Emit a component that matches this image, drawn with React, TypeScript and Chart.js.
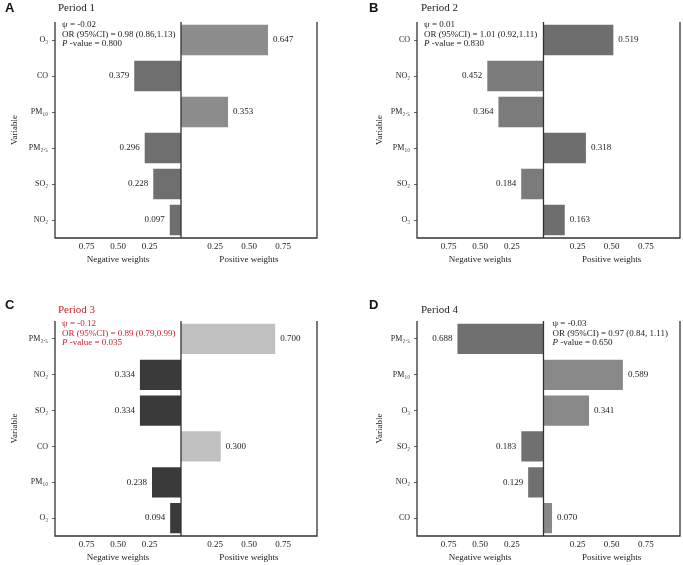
import React, { useEffect, useRef } from "react";
import { Chart, registerables } from "chart.js";
Chart.register(...registerables);

// ---- data ----
const tickValues = [0.25, 0.5, 0.75];

const labelsA = ["O₃", "CO", "PM₁₀", "PM₂.₅", "SO₂", "NO₂"];
const negA = [null, 0.379, null, 0.296, 0.228, 0.097];
const posA = [0.647, null, 0.353, null, null, null];
const statsA = ["ψ = -0.02", "OR (95%CI) = 0.98 (0.86,1.13)", "-value = 0.800"];

const labelsB = ["CO", "NO₂", "PM₂.₅", "PM₁₀", "SO₂", "O₃"];
const negB = [null, 0.452, 0.364, null, 0.184, null];
const posB = [0.519, null, null, 0.318, null, 0.163];
const statsB = ["ψ = 0.01", "OR (95%CI) = 1.01 (0.92,1.11)", "-value = 0.830"];

const labelsC = ["PM₂.₅", "NO₂", "SO₂", "CO", "PM₁₀", "O₃"];
const negC = [null, 0.334, 0.334, null, 0.238, 0.094];
const posC = [0.7, null, null, 0.3, null, null];
const statsC = ["ψ = -0.12", "OR (95%CI) = 0.89 (0.79,0.99)", "-value = 0.035"];

const labelsD = ["PM₂.₅", "PM₁₀", "O₃", "SO₂", "NO₂", "CO"];
const negD = [0.688, null, null, 0.183, 0.129, null];
const posD = [null, 0.589, 0.341, null, null, 0.07];
const statsD = ["ψ = -0.03", "OR (95%CI) = 0.97 (0.84, 1.11)", "-value = 0.650"];

const periodTitles = ["Period 1", "Period 2", "Period 3", "Period 4"];
const panelLetters = ["A", "B", "C", "D"];

const SERIF = "'Liberation Serif', 'Times New Roman', serif";
const RED = "#c8232c";

type PanelCfg = {
  labels: string[];
  neg: (number | null)[];
  pos: (number | null)[];
  stats: string[];
  negColor: string;
  posColor: string;
  textColor: string;
  statsAtRight: boolean;
  left: number;
  top: number;
  width: number;
  height: number;
  padRight: number;
  padBottom: number;
  yTitlePad: number;
};

const panels: PanelCfg[] = [
  { labels: labelsA, neg: negA, pos: posA, stats: statsA, negColor: "#6f6f6f", posColor: "#8c8c8c", textColor: "#222", statsAtRight: false, left: 0, top: 0, width: 340, height: 280, padRight: 23, padBottom: 15, yTitlePad: 9.5 },
  { labels: labelsB, neg: negB, pos: posB, stats: statsB, negColor: "#7b7b7b", posColor: "#6e6e6e", textColor: "#222", statsAtRight: false, left: 362, top: 0, width: 321, height: 280, padRight: 3, padBottom: 15, yTitlePad: 12.5 },
  { labels: labelsC, neg: negC, pos: posC, stats: statsC, negColor: "#3a3a3a", posColor: "#c0c0c0", textColor: RED, statsAtRight: false, left: 0, top: 299, width: 340, height: 266, padRight: 23, padBottom: 2, yTitlePad: 9.5 },
  { labels: labelsD, neg: negD, pos: posD, stats: statsD, negColor: "#707070", posColor: "#898989", textColor: "#222", statsAtRight: true, left: 362, top: 299, width: 321, height: 266, padRight: 3, padBottom: 2, yTitlePad: 12.5 },
];

function Panel({ cfg }: { cfg: PanelCfg }) {
  const ref = useRef<HTMLCanvasElement | null>(null);
  useEffect(() => {
    if (!ref.current) return;
    const font9 = { family: SERIF, size: 9 };
    const decor = {
      id: "decor",
      afterDatasetsDraw(chart: any) {
        const ctx = chart.ctx;
        const a = chart.chartArea;
        const center = chart.scales.xPos.left;
        ctx.save();
        // value labels
        ctx.font = `9px ${SERIF}`;
        ctx.fillStyle = "#222";
        ctx.textBaseline = "middle";
        chart.data.datasets.forEach((ds: any, di: number) => {
          const meta = chart.getDatasetMeta(di);
          meta.data.forEach((el: any, i: number) => {
            const v = ds.data[i];
            if (v === null || v === undefined) return;
            const txt = Number(v).toFixed(3);
            if (di === 0) {
              ctx.textAlign = "right";
              ctx.fillText(txt, el.x - 4, el.y);
            } else {
              ctx.textAlign = "left";
              ctx.fillText(txt, el.x + 4, el.y);
            }
          });
        });
        // frame lines
        ctx.strokeStyle = "#333";
        ctx.lineWidth = 1.3;
        ctx.beginPath();
        ctx.moveTo(a.left, a.top);
        ctx.lineTo(a.left, a.bottom);
        ctx.lineTo(a.right, a.bottom);
        ctx.lineTo(a.right, a.top);
        ctx.moveTo(center, a.top);
        ctx.lineTo(center, a.bottom);
        ctx.stroke();
        // stats text
        const sx = cfg.statsAtRight ? center + 9 : a.left + 7;
        const offs = [2.5, 12.5, 22];
        ctx.fillStyle = cfg.textColor;
        ctx.textAlign = "left";
        ctx.textBaseline = "middle";
        ctx.font = `9px ${SERIF}`;
        ctx.fillText(cfg.stats[0], sx, a.top + offs[0]);
        ctx.fillText(cfg.stats[1], sx, a.top + offs[1]);
        ctx.font = `italic 9px ${SERIF}`;
        ctx.fillText("P", sx, a.top + offs[2]);
        const pw = ctx.measureText("P ").width;
        ctx.font = `9px ${SERIF}`;
        ctx.fillText(cfg.stats[2], sx + pw, a.top + offs[2]);
        ctx.restore();
      },
    };
    const xCommon = (title: string, weight: number, reverse: boolean) => ({
      type: "linear",
      position: "bottom",
      stack: "xs",
      stackWeight: weight,
      reverse,
      min: 0,
      max: 1,
      grid: { display: false, drawTicks: false, tickLength: 0 },
      border: { display: false },
      afterBuildTicks: (s: any) => {
        s.ticks = tickValues.map((v) => ({ value: v }));
      },
      ticks: {
        font: font9,
        color: "#222",
        padding: 3,
        autoSkip: false,
        maxRotation: 0,
        callback: (v: any) => Number(v).toFixed(2),
      },
      title: { display: true, text: title, font: font9, color: "#222", padding: { top: 0, bottom: 0 } },
      afterFit: (s: any) => {
        s.height = 27;
      },
    });
    const chart = new Chart(ref.current, {
      type: "bar",
      data: {
        labels: cfg.labels,
        datasets: [
          {
            data: cfg.neg as any,
            xAxisID: "xNeg",
            yAxisID: "y",
            backgroundColor: cfg.negColor,
            borderColor: "rgba(255,255,255,0.7)",
            borderWidth: 1,
            grouped: false,
            barPercentage: 0.9,
            categoryPercentage: 1,
          },
          {
            data: cfg.pos as any,
            xAxisID: "xPos",
            yAxisID: "y",
            backgroundColor: cfg.posColor,
            borderColor: "rgba(255,255,255,0.7)",
            borderWidth: 1,
            grouped: false,
            barPercentage: 0.9,
            categoryPercentage: 1,
          },
        ],
      },
      options: {
        responsive: false,
        animation: false,
        indexAxis: "y",
        layout: { padding: { top: 22, left: 0, right: cfg.padRight, bottom: cfg.padBottom } },
        plugins: { legend: { display: false }, tooltip: { enabled: false }, title: { display: false } },
        scales: {
          y: {
            type: "category",
            position: "left",
            grid: { display: true, drawOnChartArea: false, drawTicks: true, tickLength: 3, color: "#666", offset: false },
            border: { display: false },
            ticks: { font: { family: SERIF, size: 8 }, color: "#222", padding: 4 },
            title: { display: true, text: "Variable", font: font9, color: "#222", padding: { top: cfg.yTitlePad, bottom: 0 } },
            afterFit: (s: any) => {
              s.width = 55;
            },
          },
          xNeg: xCommon("Negative weights", 126, true),
          xPos: xCommon("Positive weights", 136, false),
        } as any,
      },
      plugins: [decor],
    } as any);
    return () => chart.destroy();
  }, [cfg]);
  return (
    <canvas
      ref={ref}
      width={cfg.width}
      height={cfg.height}
      style={{ position: "absolute", left: cfg.left, top: cfg.top, width: cfg.width, height: cfg.height }}
    />
  );
}

export default function App() {
  const letterPos = [
    { x: 5, y: 0 },
    { x: 369, y: 0 },
    { x: 5, y: 297 },
    { x: 369, y: 297 },
  ];
  const titlePos = [
    { x: 58, y: 0 },
    { x: 421, y: 0 },
    { x: 58, y: 302 },
    { x: 421, y: 302 },
  ];
  return (
    <div style={{ position: "absolute", left: 0, top: 0, width: 683, height: 565, background: "#fff", overflow: "hidden" }}>
      {panels.map((p, i) => (
        <Panel key={i} cfg={p} />
      ))}
      {panelLetters.map((l, i) => (
        <div
          key={"l" + i}
          style={{
            position: "absolute",
            left: letterPos[i].x,
            top: letterPos[i].y,
            font: "bold 13px 'Liberation Sans', Arial, sans-serif",
            lineHeight: "15px",
            color: "#111",
          }}
        >
          {l}
        </div>
      ))}
      {periodTitles.map((t, i) => (
        <div
          key={"t" + i}
          style={{
            position: "absolute",
            left: titlePos[i].x,
            top: titlePos[i].y,
            font: `11px ${SERIF}`,
            lineHeight: "15px",
            color: i === 2 ? RED : "#222",
          }}
        >
          {t}
        </div>
      ))}
    </div>
  );
}
